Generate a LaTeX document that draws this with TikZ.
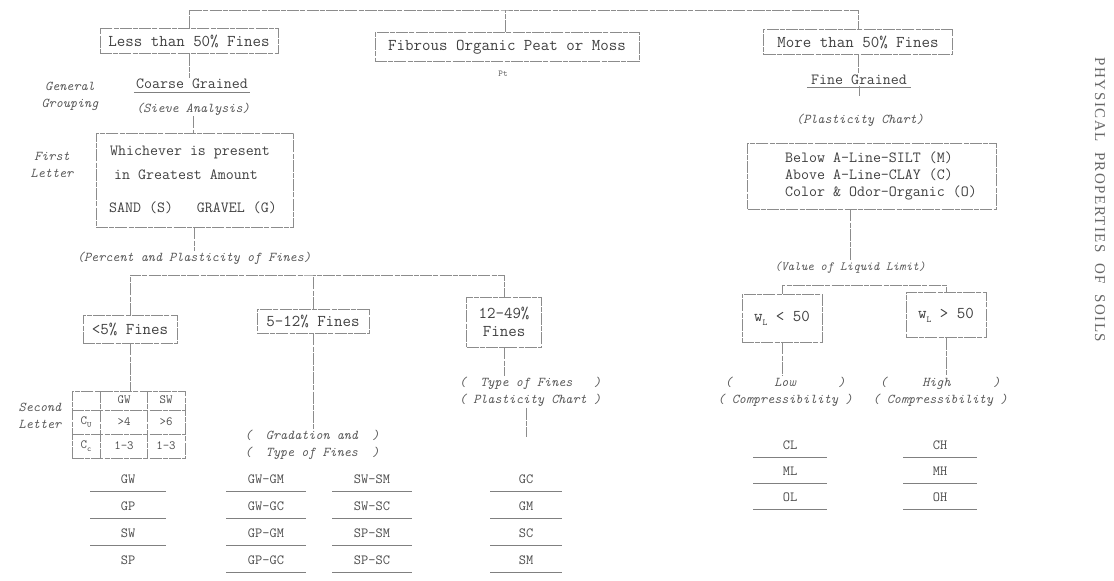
\documentclass[tikz,border=0pt]{standalone}
\usepackage{fontspec}
\newfontfamily\serifcap[LetterSpace=10]{Liberation Serif}
\begin{document}
\begin{tikzpicture}[x=1pt,y=-1pt,
  ln/.style={draw=black!45,line width=0.6pt,dash pattern=on 12pt off 1.2pt on 5pt off 1.2pt},
  bx/.style={ln,rectangle,inner sep=0pt,minimum width=#1},
  tx/.style={inner sep=1pt,text=black!75,font=\ttfamily\fontsize{15.5}{17}\selectfont},
  big/.style={inner sep=1pt,text=black!75,font=\ttfamily\fontsize{16.5}{18}\selectfont},
  sm/.style={inner sep=1pt,text=black!70,font=\ttfamily\fontsize{14}{16}\selectfont},
  tb/.style={inner sep=1pt,text=black!70,font=\ttfamily\fontsize{12.5}{14}\selectfont},
  it/.style={inner sep=1pt,text=black!65,font=\ttfamily\itshape\fontsize{13.5}{17}\selectfont},
  ul/.style={draw=black!50,line width=0.6pt}]
\useasboundingbox (0,0) rectangle (1114,581);

% ---- top level
\coordinate (top) at (505,10);
\node[bx=178,minimum height=25,big] (less) at (189,41) {Less than 50\% Fines};
\node[bx=264,minimum height=29,big] (fib) at (507,47) {Fibrous Organic Peat or Moss};
\node[inner sep=1pt,text=black!60,font=\ttfamily\fontsize{9}{10}\selectfont] (pt) at (503,74) {Pt};
\node[bx=189,minimum height=25,big] (more) at (858,42) {More than 50\% Fines};
\draw[ln] (less.north) |- (top) -| (more.north);
\draw[ln] (fib.north -| top) -- (top);

% ---- coarse grained branch
\node[tx,minimum width=116] (coarse) at (192,84) {Coarse Grained};
\draw[ul] ([yshift=-2pt]coarse.south west) -- ([yshift=-2pt]coarse.south east);
\node[it] (sieve) at (193,109) {(Sieve Analysis)};
\node[it,align=center] (gen) at (70,96) {General\\Grouping};
\draw[ln] (less.south) -- (less.south |- coarse.north);

\node[bx=197,minimum height=94] (first) at (194.5,180) {};
\node[tx] (which) at (190,152) {Whichever is present};
\node[tx] (great) at (186,175) {in Greatest Amount};
\node[tx] (sg) at (193,208) {SAND (S)\ \ \ GRAVEL (G)};
\node[it,align=center] (flet) at (52,165) {First\\Letter};
\draw[ln] (sieve.south) -- (sieve.south |- first.north);

\node[it] (perc) at (194,258) {(Percent and Plasticity of Fines)};
\draw[ln] (first.south) -- (first.south |- perc.north);

\coordinate (bar) at (311,275);
\node[bx=94,minimum height=28,big] (lt5) at (130,329) {<5\% Fines};
\node[bx=112,minimum height=24,big] (f512) at (313,321) {5-12\% Fines};
\node[bx=75,minimum height=50,big,align=center] (f1249) at (504,322) {12-49\%\\Fines};
\draw[ln] (lt5.north) |- (bar) -| (f1249.north);
\draw[ln] (f512.north) -- (f512.north |- bar);

% ---- table (second letter)
\node[bx=113,minimum height=67] (tbl) at (128.5,424.5) {};
\draw[ln] (100,391) -- (100,458);
\draw[ln] (147,391) -- (147,458);
\draw[ln] (72,410) -- (185,410);
\draw[ln] (72,434) -- (185,434);
\node[tb] (h1) at (124,400) {GW};
\node[tb] (h2) at (166,400) {SW};
\node[tb] (cu) at (86,422) {C\raisebox{-3pt}{\fontsize{8}{9}\selectfont U}};
\node[tb] (cu1) at (124,422) {>4};
\node[tb] (cu2) at (166,422) {>6};
\node[tb] (cc) at (86,446) {C\raisebox{-3pt}{\fontsize{8}{9}\selectfont c}};
\node[tb] (cc1) at (124,446) {1-3};
\node[tb] (cc2) at (166,446) {1-3};
\node[it,align=center] (sec) at (40,416) {Second\\Letter};
\draw[ln] (lt5.south) -- (lt5.south |- tbl.north);

\foreach \t/\y/\n in {GW/479/a,GP/506/b,SW/533/c,SP/560/d}
  \node[sm] (l\n) at (128,\y) {\t};
\foreach \n in {a,b,c}
  \draw[ul] ([xshift=-38pt,yshift=-7pt]l\n.south) -- ([xshift=38pt,yshift=-7pt]l\n.south);

% ---- 5-12 column
\node[it,align=center] (grad) at (312,445) {(\ \ Gradation and\ \ )\\(\ \ Type of Fines\ \ )};
\draw[ln] (f512.south) -- (f512.south |- grad.north);
\foreach \t/\y/\n in {GW-GM/479/a,GW-GC/506/b,GP-GM/533/c,GP-GC/560/d}
  \node[sm] (m\n) at (266,\y) {\t};
\foreach \t/\y/\n in {SW-SM/479/a,SW-SC/506/b,SP-SM/533/c,SP-SC/560/d}
  \node[sm] (n\n) at (372,\y) {\t};
\foreach \n in {a,b,c,d}{
  \draw[ul] ([xshift=-40pt,yshift=-7pt]m\n.south) -- ([xshift=40pt,yshift=-7pt]m\n.south);
  \draw[ul] ([xshift=-40pt,yshift=-7pt]n\n.south) -- ([xshift=40pt,yshift=-7pt]n\n.south);}

% ---- 12-49 column
\node[it,align=center] (typ) at (530,392) {(\ \ Type of Fines\ \ \ )\\(\ Plasticity Chart\ )};
\draw[ln] (f1249.south) -- (f1249.south |- typ.north);
\coordinate (tend) at (526,437);
\draw[ln] (typ.south -| tend) -- (tend);
\foreach \t/\y/\n in {GC/479/a,GM/506/b,SC/533/c,SM/560/d}
  \node[sm] (r\n) at (526,\y) {\t};
\foreach \n in {a,b,c,d}
  \draw[ul] ([xshift=-36pt,yshift=-7pt]r\n.south) -- ([xshift=36pt,yshift=-7pt]r\n.south);

% ---- fine grained branch
\node[tx,minimum width=104] (fine) at (859,80) {Fine Grained};
\draw[ul] ([yshift=-1pt]fine.south west) -- ([yshift=-1pt]fine.south east);
\draw[ln] (more.south) -- (more.south |- fine.north);
\node[it] (plast) at (860,120) {(Plasticity Chart)};
\draw[ln] (fine.south) -- ++(0,-10pt);
\node[bx=249,minimum height=66] (bigbox) at (872,176) {};
\node[tx,align=left,anchor=west] (crit) at (784,176) {Below A-Line-SILT (M)\\Above A-Line-CLAY (C)\\Color \& Odor-Organic (O)};
\node[it,font=\ttfamily\itshape\fontsize{12.5}{15}\selectfont] (val) at (850,268) {(Value of Liquid Limit)};
\draw[ln] (bigbox.south -| val.north) -- (val.north);

\coordinate (bar2) at (850,285);
\node[bx=80,minimum height=48,big] (wl1) at (782,318) {w\raisebox{-4pt}{\fontsize{9}{10}\selectfont L} < 50};
\node[bx=80,minimum height=45,big] (wl2) at (946,315) {w\raisebox{-4pt}{\fontsize{9}{10}\selectfont L} > 50};
\draw[ln] (wl1.north) |- (bar2) -| (wl2.north);

\node[it,align=center] (low) at (785,392) {(\ \ \ \ \ \ Low\ \ \ \ \ \ )\\(\ Compressibility\ )};
\node[it,align=center] (high) at (940,392) {(\ \ \ \ \ High\ \ \ \ \ \ )\\(\ Compressibility\ )};
\draw[ln] (wl1.south) -- (wl1.south |- low.north);
\draw[ln] (wl2.south) -- (wl2.south |- high.north);

\foreach \t/\y/\n in {CL/445/a,ML/471/b,OL/497/c}
  \node[sm] (p\n) at (790,\y) {\t};
\foreach \t/\y/\n in {CH/445/a,MH/471/b,OH/497/c}
  \node[sm] (q\n) at (940,\y) {\t};
\foreach \n in {a,b,c}{
  \draw[ul] ([xshift=-37pt,yshift=-7pt]p\n.south) -- ([xshift=37pt,yshift=-7pt]p\n.south);
  \draw[ul] ([xshift=-37pt,yshift=-7pt]q\n.south) -- ([xshift=37pt,yshift=-7pt]q\n.south);}

% ---- side title
\node[rotate=-90,inner sep=0pt,text=black!60,font=\serifcap\fontsize{15}{17}\selectfont] (title) at (1100,200) {PHYSICAL\ \ PROPERTIES\ \ OF\ \ SOILS};
\end{tikzpicture}
\end{document}
